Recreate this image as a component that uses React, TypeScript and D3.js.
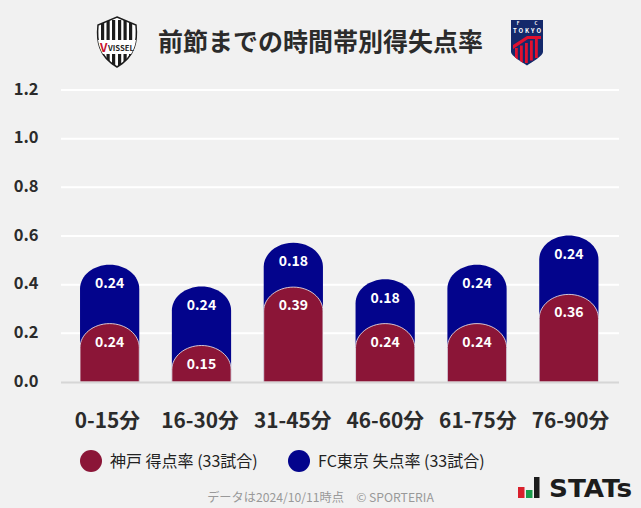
import * as d3 from "d3";

const periods = ["0-15分", "16-30分", "31-45分", "46-60分", "61-75分", "76-90分"];
const scored = [0.24, 0.15, 0.39, 0.24, 0.24, 0.36];
const conceded = [0.24, 0.24, 0.18, 0.18, 0.24, 0.24];
const yTicks = [0, 0.2, 0.4, 0.6, 0.8, 1.0, 1.2];
const legendItems = ["神戸 得点率 (33試合)", "FC東京 失点率 (33試合)"];

const RED = "#8b1537";
const NAVY = "#03048c";
const FONT = "'Noto Sans CJK JP', 'Noto Sans', sans-serif";

const width = 641;
const height = 508;

const x = d3.scaleBand<string>().domain(periods).range([63.5, 615]).paddingInner(0.355).paddingOuter(0.18);
// 軸ラベルは棒より少し広く並ぶ
const xLabel = d3.scalePoint<string>().domain(periods).range([107.5, 570.5]);
const y = d3.scaleLinear().domain([0, 1.2]).range([382, 90]);

// 上部だけ楕円に丸めた棒
function barPath(left: number, w: number, top: number, bottom: number) {
  const rx = w / 2;
  const ry = Math.min(24, bottom - top);
  const p = d3.path();
  p.moveTo(left, bottom);
  p.lineTo(left, top + ry);
  p.bezierCurveTo(left, top + ry * 0.45, left + rx * 0.45, top, left + rx, top);
  p.bezierCurveTo(left + w - rx * 0.45, top, left + w, top + ry * 0.45, left + w, top + ry);
  p.lineTo(left + w, bottom);
  p.closePath();
  return p.toString();
}

function VisselLogo() {
  const shield = "M117 17 L136 25 C137.5 40 136 56 117 67 C98 56 96.5 40 98 25 Z";
  const stripes = [101, 106.5, 112, 118, 123.5, 129];
  return (
    <g>
      <defs>
        <clipPath id="vissel-clip">
          <path d={shield} />
        </clipPath>
      </defs>
      <path d={shield} fill="#fff" stroke="#1c1c1c" strokeWidth={1.5} />
      <g clipPath="url(#vissel-clip)">
        {stripes.map((s) => (
          <rect key={s} x={s} y={20} width={3.2} height={46} fill="#1c1c1c" />
        ))}
        <rect x={97} y={40} width={40} height={14} fill="#fff" />
      </g>
      <text x={100} y={52} fontSize={12} fontWeight={700} fill="#c8102e" fontFamily={FONT}>V</text>
      <text x={108} y={51} fontSize={7} fontWeight={700} fill="#222" fontFamily={FONT} textLength={26} lengthAdjust="spacingAndGlyphs">VISSEL</text>
    </g>
  );
}

function TokyoLogo() {
  const shield = "M511 20 H543 V52 C543 56 532 62 527 65.5 C522 62 511 56 511 52 Z";
  const stripes = [515, 520, 525, 530, 535];
  return (
    <g>
      <defs>
        <clipPath id="tokyo-clip">
          <path d={shield} />
        </clipPath>
      </defs>
      <path d={shield} fill="#14296b" />
      <g clipPath="url(#tokyo-clip)">
        {stripes.map((s, i) => (
          <rect key={s} x={s} y={48 - i * 2.5} width={2.8} height={20} fill="#e0102f" />
        ))}
        <path d="M513 45 L527 36 L541 36 L541 39 L528 39 L513 49 Z" fill="#e0102f" />
      </g>
      <text x={518} y={25} fontSize={4.5} fontWeight={700} fill="#fff" textAnchor="middle" fontFamily={FONT}>F</text>
      <text x={536} y={25} fontSize={4.5} fontWeight={700} fill="#fff" textAnchor="middle" fontFamily={FONT}>C</text>
      <text x={527} y={33} fontSize={6} fontWeight={700} fill="#fff" textAnchor="middle" fontFamily={FONT} textLength={28}>TOKYO</text>
    </g>
  );
}

function StatsLogo() {
  return (
    <g>
      <rect x={518} y={487} width={6.5} height={11} fill="#d9202c" />
      <rect x={526} y={490} width={6.5} height={8} fill="#1a9c4b" />
      <rect x={534} y={477} width={5.5} height={21} fill="#1c1c1c" />
      <text x={549} y={497} fontSize={24} fontWeight={700} fill="#1c1c1c" fontFamily="'DejaVu Sans', sans-serif" textLength={83} lengthAdjust="spacingAndGlyphs">STATs</text>
    </g>
  );
}

export default function App() {
  const barW = x.bandwidth();
  return (
    <svg
      width={width}
      height={height}
      style={{ position: "absolute", left: 0, top: 0, background: "#f1f1f1", fontFamily: FONT }}
    >
      <VisselLogo />
      <TokyoLogo />
      <text x={320.5} y={50.5} textAnchor="middle" fontSize={25} fontWeight={700} fill="#2b2b2b">
        前節までの時間帯別得失点率
      </text>

      {yTicks.map((t) => (
        <g key={t}>
          {t > 0 && <line x1={61} x2={619} y1={y(t)} y2={y(t)} stroke="#fff" strokeWidth={2} />}
          <text x={38.5} y={y(t) + 4.5} textAnchor="end" fontSize={16.5} fontWeight={700} fill="#2b2b2b">
            {t.toFixed(1)}
          </text>
        </g>
      ))}

      {periods.map((p, i) => {
        const left = x(p) as number;
        const cx = left + barW / 2;
        const redTop = y(scored[i]);
        const navyTop = y(scored[i] + conceded[i]);
        return (
          <g key={p}>
            <path d={barPath(left, barW, navyTop - 0.5, y(0))} fill={NAVY} />
            <path d={barPath(left, barW, redTop, y(0))} fill={RED} stroke="#f1f1f1" strokeWidth={0.8} />
            <text x={cx} y={navyTop + 23} textAnchor="middle" fontSize={14} fontWeight={700} fill="#fff">
              {conceded[i].toFixed(2)}
            </text>
            <text x={cx} y={redTop + 23} textAnchor="middle" fontSize={14} fontWeight={700} fill="#fff">
              {scored[i].toFixed(2)}
            </text>
            <text x={xLabel(p)} y={428} textAnchor="middle" fontSize={20.8} fontWeight={700} fill="#2b2b2b">
              {p}
            </text>
          </g>
        );
      })}

      <line x1={61} x2={619} y1={382.5} y2={382.5} stroke="#d6d6d6" strokeWidth={2} />

      <ellipse cx={91} cy={461} rx={11} ry={11} fill={RED} />
      <text x={110} y={466.5} fontSize={16} fill="#222">{legendItems[0]}</text>
      <ellipse cx={299} cy={461} rx={11} ry={11} fill={NAVY} />
      <text x={318} y={466.5} fontSize={16} fill="#222">{legendItems[1]}</text>

      <text x={320.5} y={502} textAnchor="middle" fontSize={12.2} fill="#999">
        データは2024/10/11時点　© SPORTERIA
      </text>
      <StatsLogo />
    </svg>
  );
}
